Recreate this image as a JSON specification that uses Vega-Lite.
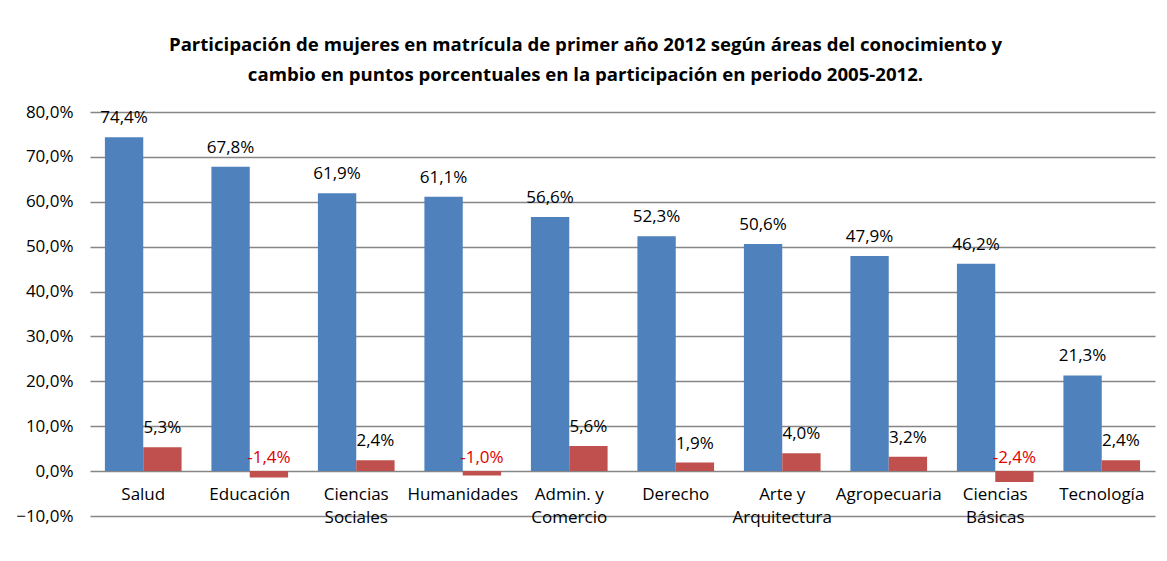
{
  "$schema": "https://vega.github.io/schema/vega-lite/v6.json",
  "autosize": {"type": "none"},
  "width": 1065,
  "height": 404,
  "padding": {"left": 90, "top": 112, "right": 12, "bottom": 45},
  "background": "white",
  "config": {
    "view": {"stroke": null},
    "font": "Open Sans",
    "title": {"font": "Open Sans", "fontSize": 18.6, "fontWeight": "bold", "color": "#000000", "anchor": "middle", "frame": "group", "dx": -37, "offset": 18, "lineHeight": 30}
  },
  "title": {"text": ["Participación de mujeres en matrícula de primer año 2012 según áreas del conocimiento y", "cambio en puntos porcentuales en la participación en periodo 2005-2012."]},
  "data": {
    "values": [
      {"area": "Salud", "nombre": "Salud", "serie": "a", "valor": 74.4, "etiqueta": "74,4%"},
      {"area": "Salud", "nombre": "Salud", "serie": "b", "valor": 5.3, "etiqueta": "5,3%"},
      {"area": "Educación", "nombre": "Educación", "serie": "a", "valor": 67.8, "etiqueta": "67,8%"},
      {"area": "Educación", "nombre": "Educación", "serie": "b", "valor": -1.4, "etiqueta": "-1,4%"},
      {"area": "Ciencias Sociales", "nombre": "Ciencias\nSociales", "serie": "a", "valor": 61.9, "etiqueta": "61,9%"},
      {"area": "Ciencias Sociales", "nombre": "Ciencias\nSociales", "serie": "b", "valor": 2.4, "etiqueta": "2,4%"},
      {"area": "Humanidades", "nombre": "Humanidades", "serie": "a", "valor": 61.1, "etiqueta": "61,1%"},
      {"area": "Humanidades", "nombre": "Humanidades", "serie": "b", "valor": -1.0, "etiqueta": "-1,0%"},
      {"area": "Admin. y Comercio", "nombre": "Admin. y\nComercio", "serie": "a", "valor": 56.6, "etiqueta": "56,6%"},
      {"area": "Admin. y Comercio", "nombre": "Admin. y\nComercio", "serie": "b", "valor": 5.6, "etiqueta": "5,6%"},
      {"area": "Derecho", "nombre": "Derecho", "serie": "a", "valor": 52.3, "etiqueta": "52,3%"},
      {"area": "Derecho", "nombre": "Derecho", "serie": "b", "valor": 1.9, "etiqueta": "1,9%"},
      {"area": "Arte y Arquitectura", "nombre": "Arte y\nArquitectura", "serie": "a", "valor": 50.6, "etiqueta": "50,6%"},
      {"area": "Arte y Arquitectura", "nombre": "Arte y\nArquitectura", "serie": "b", "valor": 4.0, "etiqueta": "4,0%"},
      {"area": "Agropecuaria", "nombre": "Agropecuaria", "serie": "a", "valor": 47.9, "etiqueta": "47,9%"},
      {"area": "Agropecuaria", "nombre": "Agropecuaria", "serie": "b", "valor": 3.2, "etiqueta": "3,2%"},
      {"area": "Ciencias Básicas", "nombre": "Ciencias\nBásicas", "serie": "a", "valor": 46.2, "etiqueta": "46,2%"},
      {"area": "Ciencias Básicas", "nombre": "Ciencias\nBásicas", "serie": "b", "valor": -2.4, "etiqueta": "-2,4%"},
      {"area": "Tecnología", "nombre": "Tecnología", "serie": "a", "valor": 21.3, "etiqueta": "21,3%"},
      {"area": "Tecnología", "nombre": "Tecnología", "serie": "b", "valor": 2.4, "etiqueta": "2,4%"}
    ]
  },
  "layer": [
    {
      "mark": {"type": "bar"},
      "encoding": {
        "x": {"field": "area", "type": "nominal", "sort": ["Salud", "Educación", "Ciencias Sociales", "Humanidades", "Admin. y Comercio", "Derecho", "Arte y Arquitectura", "Agropecuaria", "Ciencias Básicas", "Tecnología"], "scale": {"paddingInner": 0.28, "paddingOuter": 0.14}, "axis": null},
        "xOffset": {"field": "serie", "type": "nominal", "scale": {"paddingInner": 0, "paddingOuter": 0}},
        "y": {"field": "valor", "type": "quantitative", "scale": {"domain": [-10, 80], "nice": false, "zero": false},
          "axis": {"title": null, "values": [-10, 0, 10, 20, 30, 40, 50, 60, 70, 80], "grid": true, "gridColor": "#868686", "gridWidth": 1.5, "domain": false, "ticks": false, "labelPadding": 17, "labelFont": "Open Sans", "labelFontSize": 17, "labelColor": "#000000",
            "labelExpr": "replace(format(datum.value, '.1f'), '.', ',') + '%'"}},
        "color": {"field": "serie", "type": "nominal", "scale": {"domain": ["a", "b"], "range": ["#4F81BD", "#C0504D"]}, "legend": null}
      }
    },
    {
      "transform": [{"filter": "datum.valor >= 0"}],
      "mark": {"type": "text", "baseline": "bottom", "dy": -10, "fontSize": 17, "font": "Open Sans", "color": "#000000"},
      "encoding": {
        "x": {"field": "area", "type": "nominal", "sort": ["Salud", "Educación", "Ciencias Sociales", "Humanidades", "Admin. y Comercio", "Derecho", "Arte y Arquitectura", "Agropecuaria", "Ciencias Básicas", "Tecnología"]},
        "xOffset": {"field": "serie", "type": "nominal"},
        "y": {"field": "valor", "type": "quantitative"},
        "text": {"field": "etiqueta", "type": "nominal"}
      }
    },
    {
      "transform": [{"filter": "datum.valor < 0"}],
      "mark": {"type": "text", "baseline": "bottom", "dy": -4, "fontSize": 17, "font": "Open Sans", "color": "#E00000"},
      "encoding": {
        "x": {"field": "area", "type": "nominal", "sort": ["Salud", "Educación", "Ciencias Sociales", "Humanidades", "Admin. y Comercio", "Derecho", "Arte y Arquitectura", "Agropecuaria", "Ciencias Básicas", "Tecnología"]},
        "xOffset": {"field": "serie", "type": "nominal"},
        "y": {"datum": 0, "type": "quantitative"},
        "text": {"field": "etiqueta", "type": "nominal"}
      }
    },
    {
      "transform": [{"filter": "datum.serie == 'a'"}],
      "mark": {"type": "text", "baseline": "top", "dy": 16, "fontSize": 17, "font": "Open Sans", "color": "#000000", "lineBreak": "\n", "lineHeight": 23},
      "encoding": {
        "x": {"field": "area", "type": "nominal", "sort": ["Salud", "Educación", "Ciencias Sociales", "Humanidades", "Admin. y Comercio", "Derecho", "Arte y Arquitectura", "Agropecuaria", "Ciencias Básicas", "Tecnología"]},
        "y": {"datum": 0, "type": "quantitative"},
        "text": {"field": "nombre", "type": "nominal"}
      }
    }
  ]
}
